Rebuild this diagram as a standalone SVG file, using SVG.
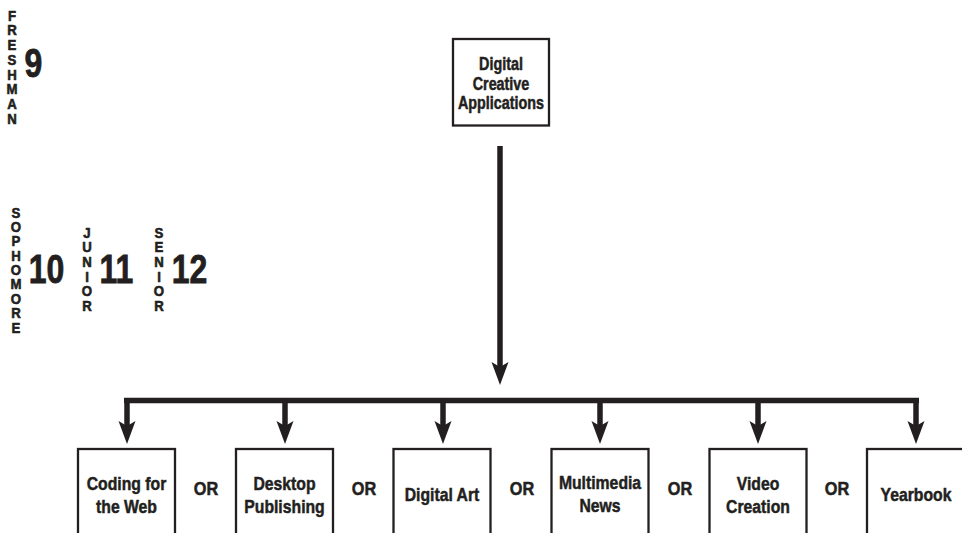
<svg xmlns="http://www.w3.org/2000/svg" width="962" height="533" viewBox="0 0 962 533">
<style>
.t{font-family:"Liberation Sans",Arial,sans-serif;font-weight:bold;fill:#231f20;stroke:#231f20;stroke-width:0.5;text-anchor:middle}
.box{fill:#fff;stroke:#231f20;stroke-width:2.3}
.top{font-size:17.5px}
.lbl{font-size:19px}
.or{font-size:18.5px}
.num{font-size:40px;stroke-width:0.8}
.v{font-size:14.7px;stroke-width:0.6}
.ln{fill:none;stroke:#231f20;stroke-width:5.5}
.head{fill:#231f20}
</style>
<defs>
<path id="ah" d="M0,0 L-8.5,-23 L0,-18 L8.5,-23 Z"/>
</defs>
<rect width="962" height="533" fill="#fff"/>

<g id="grade-9">
<text class="t v" transform="translate(12,20.5) scale(0.9,1)"><tspan x="0" y="0">F</tspan><tspan x="0" dy="14.8">R</tspan><tspan x="0" dy="14.8">E</tspan><tspan x="0" dy="14.8">S</tspan><tspan x="0" dy="14.8">H</tspan><tspan x="0" dy="14.8">M</tspan><tspan x="0" dy="14.8">A</tspan><tspan x="0" dy="14.8">N</tspan></text>
<text class="t num" transform="translate(33.5,77) scale(0.8,1)">9</text>
</g>
<g id="grade-10">
<text class="t v" transform="translate(16,217.5) scale(0.9,1)"><tspan x="0" y="0">S</tspan><tspan x="0" dy="14.4">O</tspan><tspan x="0" dy="14.4">P</tspan><tspan x="0" dy="14.4">H</tspan><tspan x="0" dy="14.4">O</tspan><tspan x="0" dy="14.4">M</tspan><tspan x="0" dy="14.4">O</tspan><tspan x="0" dy="14.4">R</tspan><tspan x="0" dy="14.4">E</tspan></text>
<text class="t num" transform="translate(46.5,283) scale(0.8,1)">10</text>
</g>
<g id="grade-11">
<text class="t v" transform="translate(87,237.5) scale(0.9,1)"><tspan x="0" y="0">J</tspan><tspan x="0" dy="14.7">U</tspan><tspan x="0" dy="14.7">N</tspan><tspan x="0" dy="14.7">I</tspan><tspan x="0" dy="14.7">O</tspan><tspan x="0" dy="14.7">R</tspan></text>
<text class="t num" transform="translate(116.5,283) scale(0.8,1)">11</text>
</g>
<g id="grade-12">
<text class="t v" transform="translate(159,237.5) scale(0.9,1)"><tspan x="0" y="0">S</tspan><tspan x="0" dy="14.7">E</tspan><tspan x="0" dy="14.7">N</tspan><tspan x="0" dy="14.7">I</tspan><tspan x="0" dy="14.7">O</tspan><tspan x="0" dy="14.7">R</tspan></text>
<text class="t num" transform="translate(189.5,283) scale(0.8,1)">12</text>
</g>

<g id="connectors">
<path class="ln" d="M500,146 V368"/>
<use href="#ah" class="head" x="500" y="385"/>
<path class="ln" d="M124,400.5 H919"/>
<path class="ln" d="M127,398 V426"/>
<use href="#ah" class="head" x="127" y="444"/>
<path class="ln" d="M285,398 V426"/>
<use href="#ah" class="head" x="285" y="444"/>
<path class="ln" d="M443,398 V426"/>
<use href="#ah" class="head" x="443" y="444"/>
<path class="ln" d="M600,398 V426"/>
<use href="#ah" class="head" x="600" y="444"/>
<path class="ln" d="M758,398 V426"/>
<use href="#ah" class="head" x="758" y="444"/>
<path class="ln" d="M916,398 V426"/>
<use href="#ah" class="head" x="916" y="444"/>
</g>

<g id="digital-creative-applications">
<rect class="box" x="453" y="39" width="96" height="86.5"/>
<text class="t top" transform="translate(501,70) scale(0.82,1)"><tspan x="0">Digital</tspan><tspan x="0" dy="19.7">Creative</tspan><tspan x="0" dy="19.7">Applications</tspan></text>
</g>

<g id="coding-for-the-web">
<rect class="box" x="78" y="449" width="97" height="100"/>
<text class="t lbl" transform="translate(126.5,489.5) scale(0.83,1)"><tspan x="0">Coding for</tspan><tspan x="0" dy="23.3">the Web</tspan></text>
</g>
<g id="desktop-publishing">
<rect class="box" x="236" y="449" width="97" height="100"/>
<text class="t lbl" transform="translate(284.5,489.5) scale(0.83,1)"><tspan x="0">Desktop</tspan><tspan x="0" dy="23.3">Publishing</tspan></text>
</g>
<g id="digital-art">
<rect class="box" x="393.5" y="449" width="97" height="100"/>
<text class="t lbl" transform="translate(442,500.5) scale(0.83,1)">Digital Art</text>
</g>
<g id="multimedia-news">
<rect class="box" x="551.5" y="449" width="97" height="100"/>
<text class="t lbl" transform="translate(600,489) scale(0.83,1)"><tspan x="0">Multimedia</tspan><tspan x="0" dy="23.5">News</tspan></text>
</g>
<g id="video-creation">
<rect class="box" x="709.5" y="449" width="97" height="100"/>
<text class="t lbl" transform="translate(758,489.5) scale(0.83,1)"><tspan x="0">Video</tspan><tspan x="0" dy="23.3">Creation</tspan></text>
</g>
<g id="yearbook">
<rect class="box" x="867" y="449" width="98" height="100"/>
<text class="t lbl" transform="translate(916,500.5) scale(0.83,1)">Yearbook</text>
</g>

<g id="or-labels">
<text class="t or" transform="translate(206,495) scale(0.88,1)">OR</text>
<text class="t or" transform="translate(364,495) scale(0.88,1)">OR</text>
<text class="t or" transform="translate(522,495) scale(0.88,1)">OR</text>
<text class="t or" transform="translate(680,495) scale(0.88,1)">OR</text>
<text class="t or" transform="translate(837,495) scale(0.88,1)">OR</text>
</g>
</svg>
